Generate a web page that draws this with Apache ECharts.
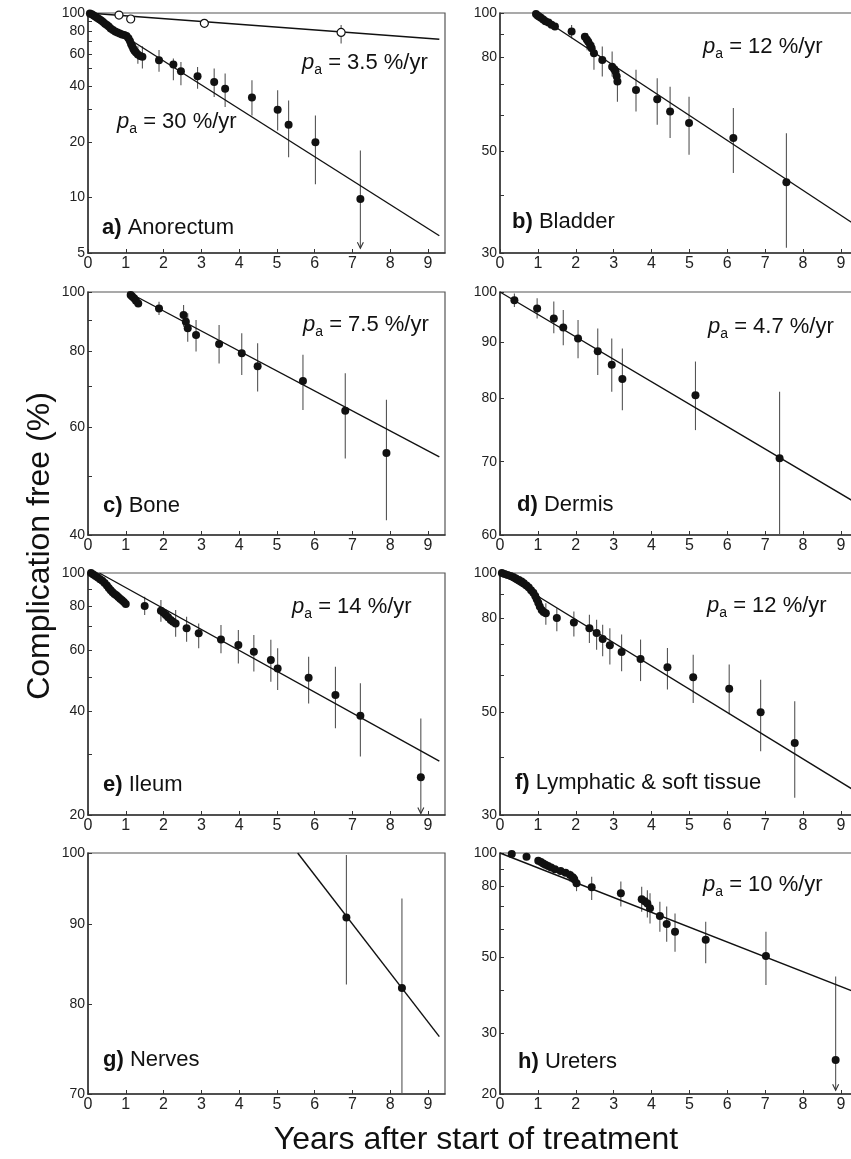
<!DOCTYPE html>
<html><head><meta charset="utf-8">
<script src="https://cdn.jsdelivr.net/npm/echarts@6/dist/echarts.min.js"></script>
<style>html,body{margin:0;padding:0;background:#fff}#c{width:851px;height:1159px}</style>
</head><body><div id="c"></div><script>
const FONT = "'Liberation Sans', Arial, Helvetica, sans-serif";
const INK = '#111';

// ---------------- data ----------------
const xTickValues = [0,1,2,3,4,5,6,7,8,9];
const panelLetters = ['a)','b)','c)','d)','e)','f)','g)','h)'];
const panelNames = ['Anorectum','Bladder','Bone','Dermis','Ileum','Lymphatic & soft tissue','Nerves','Ureters'];
const xAxisTitle = 'Years after start of treatment';
const yAxisTitle = 'Complication free (%)';

// a) Anorectum
const anorectumPoints = [[0.05,99.5],[0.1,98.5],[0.15,97],[0.2,95.5],[0.25,94],[0.3,92.5],[0.35,91],[0.4,89.5],[0.45,87.5],[0.5,86],[0.55,84.5],[0.6,82.5],[0.66,81],[0.72,79.5],[0.78,78.5],[0.84,77.5],[0.9,76.5],[0.96,76],[1.02,75],[1.07,73],[1.11,70.5],[1.14,68],[1.17,66],[1.2,64],[1.23,62.5],[1.27,61],[1.32,59.5],[1.38,58.5],[1.44,58],[1.88,55.5],[2.26,52.5],[2.46,48.4],[2.90,45.4],[3.34,42.3],[3.63,38.9],[4.34,34.8],[5.02,29.9],[5.31,24.8],[6.02,19.9],[7.21,9.8]];
const anorectumErrors = [[1.32,53,66],[1.44,50,66],[1.88,48,63],[2.26,43.2,56.7],[2.46,40.6,54.3],[2.90,38.9,51.0],[3.34,35.0,50.0],[3.63,30.9,47.0],[4.34,27.8,43.2],[5.02,23.1,38.1],[5.31,16.5,33.6],[6.02,11.8,27.8],[7.21,5.3,18.0,1],[6.70,68.4,86]];
const anorectumOpenPoints = [[0.82,97.5],[1.13,92.8],[3.08,87.9],[6.70,78.5]];
const anorectumFitFast = [[0,100],[9.3,6.2]];
const anorectumFitSlow = [[0,100],[9.3,72.1]];
const anorectumYLabels = [5,10,20,40,60,80,100];
const anorectumYTicks = [5,10,20,30,40,50,60,70,80,90,100];
const anorectumRates = ['3.5','30'];

// b) Bladder
const bladderPoints = [[0.95,99.5],[0.99,98.8],[1.03,98.2],[1.08,97.6],[1.14,96.8],[1.2,96],[1.28,95.3],[1.36,94.3],[1.45,93.4],[1.89,91.1],[2.24,88.8],[2.29,87.6],[2.33,86.6],[2.38,85.2],[2.42,83.8],[2.48,81.7],[2.70,79.0],[2.96,76.4],[3.01,75.5],[3.05,74.6],[3.08,72.8],[3.10,70.9],[3.59,68.0],[4.15,64.9],[4.49,61.0],[4.99,57.6],[6.16,53.4],[7.56,42.8]];
const bladderErrors = [[1.89,88.1,94.2],[2.30,83,90.5],[2.48,75.2,85.9],[2.70,72.7,84.5],[2.96,72.7,82.4],[3.10,64.1,76.4],[3.59,61.0,75.2],[4.15,57.1,72.1],[4.49,53.4,69.1],[4.99,49.1,65.7],[6.16,44.8,62.1],[7.56,30.8,54.7]];
const bladderFit = [[0.9,100],[9.3,34.9]];
const bladderYLabels = [30,50,80,100];
const bladderYTicks = [30,40,50,60,70,80,90,100];
const bladderRate = '12';

// c) Bone
const bonePoints = [[1.13,98.9],[1.17,98.3],[1.22,97.7],[1.27,96.8],[1.33,95.8],[1.88,94.0],[2.53,91.7],[2.59,89.4],[2.64,87.2],[2.86,85.0],[3.47,82.2],[4.07,79.4],[4.49,75.6],[5.69,71.5],[6.81,63.9],[7.90,54.5]];
const boneErrors = [[1.88,91.7,96.4],[2.53,87.7,95.2],[2.64,82.9,92.3],[2.86,79.9,90.0],[3.47,76.4,88.3],[4.07,73.1,85.6],[4.49,68.7,82.4],[5.69,64.1,78.9],[6.81,53.4,73.6],[7.90,42.3,66.6]];
const boneFit = [[1.05,100],[9.3,53.7]];
const boneYLabels = [40,60,80,100];
const boneYTicks = [40,50,60,70,80,90,100];
const boneRate = '7.5';

// d) Dermis
const dermisPoints = [[0.38,98.3],[0.98,96.6],[1.42,94.6],[1.67,92.8],[2.06,90.7],[2.58,88.3],[2.95,85.8],[3.23,83.3],[5.16,80.5],[7.38,70.5]];
const dermisErrors = [[0.38,96.9,99.7],[0.98,94.6,98.7],[1.42,91.7,98.0],[1.67,89.4,96.3],[2.06,87.0,94.3],[2.58,84.0,92.6],[2.95,81.1,90.7],[3.23,78.0,88.8],[5.16,74.8,86.4],[7.38,60,81.1]];
const dermisFit = [[0,100],[9.3,64.5]];
const dermisYLabels = [60,70,80,90,100];
const dermisYTicks = [60,70,80,90,100];
const dermisRate = '4.7';

// e) Ileum
const ileumPoints = [[0.08,100],[0.14,99],[0.2,98],[0.26,97],[0.32,96],[0.38,95],[0.44,93.5],[0.5,92],[0.55,90.5],[0.6,89.2],[0.65,88],[0.7,87],[0.75,86.2],[0.8,85.2],[0.85,84.2],[0.9,83.4],[0.95,82.4],[1.0,81.4],[1.50,80.3],[1.93,77.8],[2.0,76.8],[2.06,75.6],[2.12,74.5],[2.19,73.2],[2.25,72.3],[2.32,71.5],[2.61,69.2],[2.93,67.0],[3.52,64.3],[3.98,61.9],[4.39,59.2],[4.84,56.1],[5.02,53.0],[5.84,49.8],[6.55,44.4],[7.21,38.7],[8.81,25.7]];
const ileumErrors = [[1.50,75.6,85.4],[1.93,72.3,83.6],[2.32,65.4,78.2],[2.61,63.3,74.8],[2.93,60.6,71.5],[3.52,58.6,70.8],[3.98,54.8,68.4],[4.39,51.9,66.2],[4.84,48.5,64.1],[5.02,45.9,60.6],[5.84,42.0,57.3],[6.55,35.6,53.6],[7.21,29.5,48.0],[8.81,20.2,38.0,1]];
const ileumFit = [[0.3,100],[9.3,28.6]];
const ileumYLabels = [20,40,60,80,100];
const ileumYTicks = [20,30,40,50,60,70,80,90,100];
const ileumRate = '14';

// f) Lymphatic & soft tissue
const lymphPoints = [[0.05,100],[0.12,99.5],[0.2,99],[0.28,98.5],[0.35,98],[0.42,97.3],[0.5,96.6],[0.57,95.8],[0.63,95],[0.7,94],[0.76,93],[0.82,91.8],[0.88,90.6],[0.93,89.2],[0.97,87.8],[1.01,86.2],[1.05,84.6],[1.1,83.2],[1.15,82.4],[1.21,81.9],[1.50,79.9],[1.95,78.2],[2.36,76.0],[2.55,74.2],[2.71,72.0],[2.90,69.8],[3.21,67.5],[3.71,65.2],[4.42,62.6],[5.10,59.5],[6.05,56.2],[6.88,50.0],[7.78,42.9]];
const lymphErrors = [[1.21,77.3,86.0],[1.50,74.8,83.9],[1.95,72.9,82.6],[2.36,70.6,81.2],[2.55,68.3,79.2],[2.71,66.1,77.3],[2.90,63.4,76.0],[3.21,61.3,73.6],[3.71,58.4,71.8],[4.42,56.0,68.9],[5.10,52.4,66.6],[6.05,49.5,63.4],[6.88,41.2,58.8],[7.78,32.7,52.8]];
const lymphFit = [[0,100],[9.3,34.1]];
const lymphYLabels = [30,50,80,100];
const lymphYTicks = [30,40,50,60,70,80,90,100];
const lymphRate = '12';

// g) Nerves
const nervesPoints = [[6.84,90.9],[8.31,81.9]];
const nervesErrors = [[6.84,82.3,99.7],[8.31,70.0,93.5]];
const nervesFit = [[5.55,100],[9.3,76.2]];
const nervesYLabels = [70,80,90,100];
const nervesYTicks = [70,80,90,100];

// h) Ureters
const uretersPoints = [[0.31,99.3],[0.70,97.6],[1.01,95.0],[1.08,94.2],[1.14,93.3],[1.2,92.5],[1.27,91.7],[1.35,90.8],[1.45,89.7],[1.6,88.6],[1.73,87.7],[1.85,86.3],[1.92,85],[1.96,83.9],[2.02,81.7],[2.42,79.5],[3.19,76.4],[3.74,73.4],[3.82,72.4],[3.89,71.4],[3.96,69.1],[4.22,65.7],[4.40,62.2],[4.62,59.1],[5.43,56.0],[7.02,50.3],[8.86,25.1]];
const uretersErrors = [[1.85,82.5,89],[2.02,77.5,86],[2.42,73.1,85.3],[3.19,69.9,82.6],[3.74,67.6,79.8],[3.89,65,78],[3.96,62.5,76.4],[4.22,59.1,72.2],[4.40,55.3,69.9],[4.62,51.7,66.8],[5.43,47.9,63.2],[7.02,41.4,59.1],[8.86,20.5,43.8,1]];
const uretersFit = [[0,100],[9.3,39.8]];
const uretersYLabels = [20,30,50,80,100];
const uretersYTicks = [20,30,40,50,60,70,80,90,100];
const uretersRate = '10';

// ---------------- layout ----------------
const COL_LEFT = [88, 500];
const COL_W = [357, 358];
const ROW_TOP = [13, 292, 573, 853];
const ROW_H = [240, 243, 242, 241];
const X_MAX = 9.45;

const panels = [
  {col:0,row:0,yMin:5, yLabels:anorectumYLabels, yTicks:anorectumYTicks, points:anorectumPoints, errors:anorectumErrors, fits:[anorectumFitFast, anorectumFitSlow], open:anorectumOpenPoints,
   rates:[{v:anorectumRates[0],x:302,y:63},{v:anorectumRates[1],x:117,y:122}], nx:102, ny:228},
  {col:1,row:0,yMin:30, yLabels:bladderYLabels, yTicks:bladderYTicks, points:bladderPoints, errors:bladderErrors, fits:[bladderFit],
   rates:[{v:bladderRate,x:703,y:47}], nx:512, ny:222},
  {col:0,row:1,yMin:40, yLabels:boneYLabels, yTicks:boneYTicks, points:bonePoints, errors:boneErrors, fits:[boneFit],
   rates:[{v:boneRate,x:303,y:325}], nx:103, ny:506},
  {col:1,row:1,yMin:60, yLabels:dermisYLabels, yTicks:dermisYTicks, points:dermisPoints, errors:dermisErrors, fits:[dermisFit],
   rates:[{v:dermisRate,x:708,y:327}], nx:517, ny:505},
  {col:0,row:2,yMin:20, yLabels:ileumYLabels, yTicks:ileumYTicks, points:ileumPoints, errors:ileumErrors, fits:[ileumFit],
   rates:[{v:ileumRate,x:292,y:607}], nx:103, ny:785},
  {col:1,row:2,yMin:30, yLabels:lymphYLabels, yTicks:lymphYTicks, points:lymphPoints, errors:lymphErrors, fits:[lymphFit],
   rates:[{v:lymphRate,x:707,y:606}], nx:515, ny:783},
  {col:0,row:3,yMin:70, yLabels:nervesYLabels, yTicks:nervesYTicks, points:nervesPoints, errors:nervesErrors, fits:[nervesFit],
   rates:[], nx:103, ny:1060},
  {col:1,row:3,yMin:20, yLabels:uretersYLabels, yTicks:uretersYTicks, points:uretersPoints, errors:uretersErrors, fits:[uretersFit],
   rates:[{v:uretersRate,x:703,y:885}], nx:518, ny:1062}
];

const ANN_SIZE = 22;
const grids = [], xAxes = [], yAxes = [], series = [], graphics = [];

panels.forEach((p, i) => {
  grids.push({
    left: COL_LEFT[p.col], top: ROW_TOP[p.row], width: COL_W[p.col], height: ROW_H[p.row],
    containLabel: false, outerBoundsMode: 'none',
    show: true, borderColor: '#555', borderWidth: 1.2, backgroundColor: 'transparent'
  });
  xAxes.push({
    type: 'value', gridIndex: i, min: 0, max: X_MAX,
    splitLine: {show: false},
    axisLine: {show: true, onZero: false, lineStyle: {color: '#333', width: 1.5}},
    axisTick: {show: true, inside: true, length: 4, customValues: xTickValues, lineStyle: {color: '#333', width: 1}},
    axisLabel: {customValues: xTickValues, color: '#222', fontSize: 16, fontFamily: FONT, margin: 3}
  });
  yAxes.push({
    type: 'log', logBase: 10, gridIndex: i, min: p.yMin, max: 100,
    splitLine: {show: false},
    axisLine: {show: true, onZero: false, lineStyle: {color: '#333', width: 1.5}},
    axisTick: {show: true, inside: true, length: 4, customValues: p.yTicks, lineStyle: {color: '#333', width: 1}},
    axisLabel: {customValues: p.yLabels, color: '#222', fontSize: 14, fontFamily: FONT, margin: 3}
  });
  // error bars
  series.push({
    type: 'custom', xAxisIndex: i, yAxisIndex: i, z: 1, silent: true,
    data: p.errors.map(d => [d[0], d[1], d[2], d[3] || 0]),
    encode: {x: 0, y: [1, 2]},
    renderItem: (params, api) => {
      const t = api.value(0), lo = api.value(1), hi = api.value(2), arrow = api.value(3);
      const top = api.coord([t, hi]), bot = api.coord([t, lo]);
      const children = [{type: 'line', shape: {x1: top[0], y1: top[1], x2: bot[0], y2: bot[1]},
        style: {stroke: '#555', lineWidth: 1.1}}];
      if (arrow) {
        children.push({type: 'polyline', shape: {points: [[bot[0]-3, bot[1]-6], [bot[0], bot[1]], [bot[0]+3, bot[1]-6]]},
          style: {stroke: '#333', lineWidth: 1.1, fill: null}});
      }
      return {type: 'group', children};
    }
  });
  // fitted lines
  p.fits.forEach(f => series.push({
    type: 'line', xAxisIndex: i, yAxisIndex: i, data: f, symbol: 'none', silent: true, z: 2,
    lineStyle: {color: INK, width: 1.4}
  }));
  // points
  series.push({
    type: 'scatter', xAxisIndex: i, yAxisIndex: i, data: p.points, symbol: 'circle', symbolSize: 8,
    itemStyle: {color: INK, opacity: 1}, silent: true, z: 3
  });
  if (p.open) series.push({
    type: 'scatter', xAxisIndex: i, yAxisIndex: i, data: p.open, symbol: 'circle', symbolSize: 8,
    itemStyle: {color: '#fff', borderColor: INK, borderWidth: 1.2, opacity: 1}, silent: true, z: 4
  });
  // panel name
  graphics.push({
    type: 'text', x: p.nx, y: p.ny, silent: true, z: 10,
    style: {
      text: '{b|' + panelLetters[i] + '}{n| ' + panelNames[i] + '}',
      verticalAlign: 'middle', align: 'left',
      rich: {
        b: {fontSize: ANN_SIZE, fontFamily: FONT, fontWeight: 'bold', fill: INK},
        n: {fontSize: ANN_SIZE, fontFamily: FONT, fill: INK}
      }
    }
  });
  // rate annotations
  p.rates.forEach(r => graphics.push({
    type: 'text', x: r.x, y: r.y, silent: true, z: 10,
    style: {
      text: '{p|p}{s|a}{n| = ' + r.v + ' %/yr}',
      verticalAlign: 'middle', align: 'left',
      rich: {
        p: {fontSize: ANN_SIZE, fontFamily: FONT, fontStyle: 'italic', fill: INK},
        s: {fontSize: 14, fontFamily: FONT, fill: INK, padding: [14, 0, 0, 0]},
        n: {fontSize: ANN_SIZE, fontFamily: FONT, fill: INK}
      }
    }
  }));
});

graphics.push({
  type: 'text', x: 476, y: 1140, silent: true,
  style: {text: xAxisTitle, fontSize: 32, fontFamily: FONT, fill: INK, align: 'center', verticalAlign: 'middle'}
});
graphics.push({
  type: 'text', x: 40, y: 546, rotation: Math.PI / 2, silent: true,
  style: {text: yAxisTitle, fontSize: 32, fontFamily: FONT, fill: INK, align: 'center', verticalAlign: 'middle'}
});

const chart = echarts.init(document.getElementById('c'), null, {renderer: 'canvas'});
chart.setOption({
  animation: false,
  backgroundColor: '#fff',
  grid: grids, xAxis: xAxes, yAxis: yAxes, series, graphic: graphics
});
</script></body></html>
